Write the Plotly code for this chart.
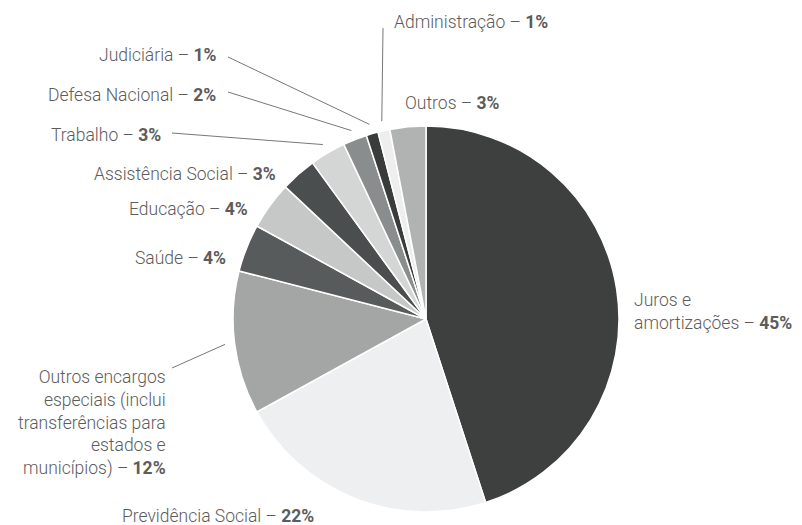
import math
import plotly.graph_objects as go

# Budget shares (%), clockwise from 12 o'clock
categories = [
    "Juros e amortizações",
    "Previdência Social",
    "Outros encargos especiais",
    "Saúde",
    "Educação",
    "Assistência Social",
    "Trabalho",
    "Defesa Nacional",
    "Judiciária",
    "Administração",
    "Outros",
]
shares = [45, 22, 12, 4, 4, 3, 3, 2, 1, 1, 3]
slice_colors = [
    "#3e4040", "#eeeff0", "#a4a6a6", "#585b5b", "#c6c8c8", "#4b4e4e",
    "#d4d6d6", "#8a8d8d", "#3a3c3c", "#eeeeee", "#b1b3b3",
]
label_text = [
    "Juros e<br>amortizações – <b>45%</b>",
    "Previdência Social – <b>22%</b>",
    "Outros encargos<br>especiais (inclui<br>transferências para<br>estados e<br>municípios) – <b>12%</b>",
    "Saúde – <b>4%</b>",
    "Educação – <b>4%</b>",
    "Assistência Social – <b>3%</b>",
    "Trabalho – <b>3%</b>",
    "Defesa Nacional – <b>2%</b>",
    "Judiciária – <b>1%</b>",
    "Administração – <b>1%</b>",
    "Outros – <b>3%</b>",
]

W, H = 802, 525
CX, CY, R = 426, 319, 193  # pie centre and radius in pixels

# label placement (pixels): (x, y, xanchor, leader-line start or None)
label_pos = [
    (632, 311, "left", None),
    (120, 516, "left", None),
    (168, 423, "right", (172, 368)),
    (228, 258, "right", None),
    (250, 209, "right", None),
    (278, 174, "right", None),
    (163, 135, "right", (172, 133)),
    (218, 95, "right", (228, 92)),
    (218, 55, "right", (228, 57)),
    (392, 22, "left", (383, 28)),
    (403, 103, "left", None),
]

def px(x):
    return x / W

def py(y):
    return 1 - y / H

fig = go.Figure(
    go.Pie(
        labels=categories,
        values=shares,
        sort=False,
        direction="clockwise",
        rotation=0,
        marker=dict(colors=slice_colors, line=dict(color="white", width=1.5)),
        textinfo="none",
        hoverinfo="label+percent",
        showlegend=False,
        domain=dict(x=[px(CX - R), px(CX + R)], y=[py(CY + R), py(CY - R)]),
    )
)

font = dict(family="Roboto", size=17.5, color="#5c5c5c", weight=300)
annotations = []
shapes = []
total = sum(shares)
cum = 0
for name, val, txt, (lx, ly, anchor, lead) in zip(categories, shares, label_text, label_pos):
    mid = (cum + val / 2) / total * 2 * math.pi
    cum += val
    annotations.append(
        dict(
            x=px(lx), y=py(ly), xref="paper", yref="paper",
            text=txt, showarrow=False, xanchor=anchor, yanchor="middle",
            align=anchor, font=font,
        )
    )
    if lead is not None:
        ex = CX + math.sin(mid) * R * 1.05
        ey = CY - math.cos(mid) * R * 1.05
        shapes.append(
            dict(
                type="line", xref="paper", yref="paper",
                x0=px(lead[0]), y0=py(lead[1]), x1=px(ex), y1=py(ey),
                line=dict(color="#777777", width=1),
            )
        )

fig.update_layout(
    width=W, height=H,
    margin=dict(l=0, r=0, t=0, b=0),
    paper_bgcolor="white",
    plot_bgcolor="white",
    annotations=annotations,
    shapes=shapes,
)

fig.write_html("out.html")
